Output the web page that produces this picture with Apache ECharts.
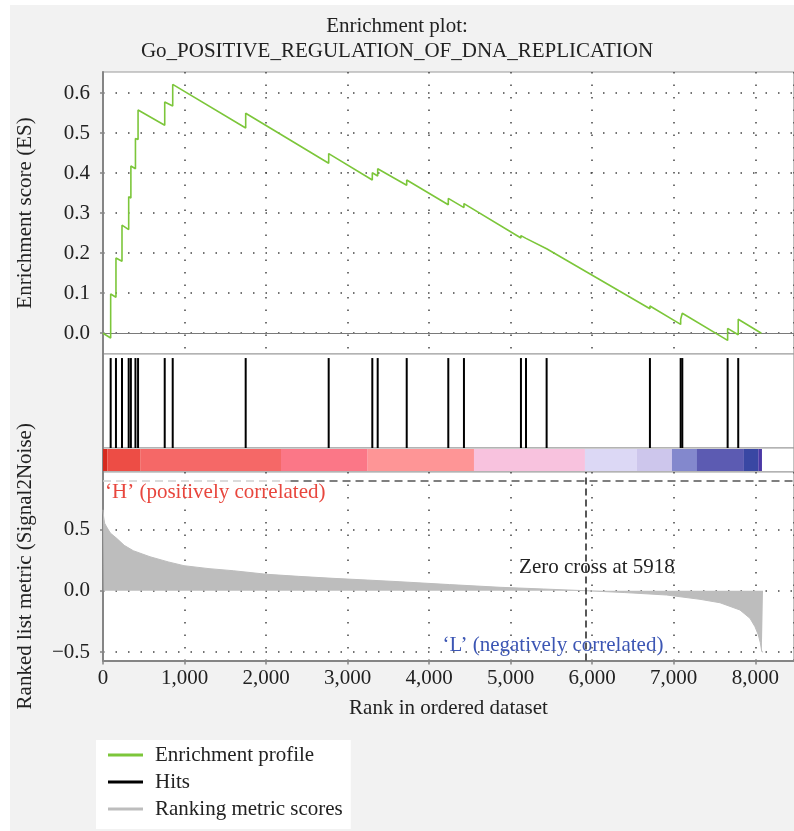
<!DOCTYPE html>
<html><head><meta charset="utf-8">
<script src="https://cdn.jsdelivr.net/npm/echarts@6/dist/echarts.min.js"></script>
<style>html,body{margin:0;padding:0;background:#fff}#c{width:794px;height:831px}</style>
</head><body><div id="c"></div>
<script>
// ---------- data ----------
const titleLines = ['Enrichment plot:', 'Go_POSITIVE_REGULATION_OF_DNA_REPLICATION'];
const esTicks = [0, 0.1, 0.2, 0.3, 0.4, 0.5, 0.6];
const metricTicks = [-0.5, 0, 0.5];

// running enrichment score vertices (rank, ES)
const esRank  = [0, 94, 94, 159, 159, 233, 233, 315, 315, 342, 342, 398, 398, 430, 430, 757, 757, 855, 855,
                 1750, 1750, 2768, 2768, 3303, 3303, 3369, 3369, 3725, 3725, 4235, 4235, 4427, 4427,
                 5126, 5126, 5188, 5188, 5441, 5441, 6708, 6708, 7085, 7085, 7105, 7105, 7661, 7661, 7791, 7791, 8075];
const esScore = [0, -0.012, 0.098, 0.090, 0.188, 0.180, 0.270, 0.259, 0.341, 0.338, 0.418, 0.411, 0.487, 0.484, 0.558,
                 0.520, 0.578, 0.568, 0.622, 0.513, 0.550, 0.425, 0.449, 0.383, 0.401, 0.393, 0.411, 0.370, 0.383,
                 0.321, 0.337, 0.314, 0.324, 0.238, 0.244, 0.237, 0.242, 0.211, 0.216, 0.061, 0.068, 0.022, 0.035,
                 0.033, 0.050, -0.018, 0.012, -0.004, 0.035, 0.0];

// gene set hit positions
const hitRanks = [94, 159, 233, 315, 342, 398, 430, 757, 855, 1750, 2768, 3303, 3369, 3725, 4235, 4427,
                  5126, 5188, 5441, 6708, 7085, 7105, 7661, 7791];

// ranked list metric (Signal2Noise)
const metricRank  = [0, 8, 20, 45, 90, 168, 260, 372, 576, 800, 993, 1300, 1598, 2007, 2400, 2820, 3242, 3642,
                     4250, 4869, 5400, 5918, 6400, 6913, 7322, 7567, 7812, 7935, 7996, 8037, 8062, 8080, 8095];
const metricValue = [0.66, 0.60, 0.55, 0.52, 0.47, 0.427, 0.37, 0.326, 0.277, 0.235, 0.204, 0.18, 0.163, 0.134,
                     0.117, 0.101, 0.087, 0.073, 0.05, 0.028, 0.014, 0.0, -0.015, -0.035, -0.07, -0.098, -0.157,
                     -0.225, -0.293, -0.36, -0.424, -0.497, -0.50];

// colour bar of ranked list
const barStart  = [0, 53, 462, 2183, 3246, 4550, 5911, 6549, 6978, 7285, 7861, 8037];
const barEnd    = [53, 462, 2183, 3246, 4550, 5911, 6549, 6978, 7285, 7861, 8037, 8082];
const barColors = ['#d62b1f', '#ed4d45', '#f56867', '#fb7787', '#fe9596', '#f8c2de', '#dcd8f5', '#cdc6ec',
                   '#8388cd', '#5c5bb2', '#3947a3', '#4b38a6'];

const zeroCross = 5918;
const xMax = 8475;

// ---------- chart ----------
const FF = "'Liberation Serif', 'Times New Roman', serif";
const TXT = '#222';
const dotted = { show: true, lineStyle: { color: '#444', width: 1.5, type: [1.5, 11] } };
const axisGray = '#858585';
const fmtY = v => (v < 0 ? '\u2212' + Math.abs(v).toFixed(1) : v.toFixed(1));

const chart = echarts.init(document.getElementById('c'), null, { renderer: 'canvas' });

const gridBase = { left: 103, width: 691, show: true, backgroundColor: '#fff', borderColor: '#999', borderWidth: 1.2, containLabel: false };

const option = {
  animation: false,
  backgroundColor: '#fff',
  graphic: [{ type: 'rect', left: 10, top: 5, shape: { width: 784, height: 826 }, style: { fill: '#f2f2f2' }, z: -100, silent: true }],
  title: {
    text: titleLines.join('\n'), left: 'center', top: 9,
    textStyle: { fontSize: 21, fontWeight: 'normal', lineHeight: 25, color: TXT, fontFamily: FF }
  },
  legend: {
    orient: 'vertical', left: 96, top: 740, padding: [3, 8, 8, 12], itemGap: 3,
    backgroundColor: '#fff', itemWidth: 35, itemHeight: 3,
    data: [{ name: 'Enrichment profile', icon: 'rect' }, { name: 'Hits', icon: 'rect' }, { name: 'Ranking metric scores', icon: 'rect' }],
    textStyle: { fontSize: 21, lineHeight: 24, color: TXT, fontFamily: FF, padding: [0, 0, 0, 7] }
  },
  grid: [
    Object.assign({}, gridBase, { top: 72, height: 282 }),
    Object.assign({}, gridBase, { top: 354, height: 94 }),
    Object.assign({}, gridBase, { top: 448, height: 24 }),
    Object.assign({}, gridBase, { top: 472, height: 188.5 })
  ],
  xAxis: [
    { gridIndex: 0, type: 'value', min: 0, max: xMax, interval: 1000, axisLine: { show: false }, axisTick: { show: false }, axisLabel: { show: false }, splitLine: dotted },
    { gridIndex: 1, type: 'value', min: 0, max: xMax, show: false, splitLine: { show: false } },
    { gridIndex: 2, type: 'value', min: 0, max: xMax, show: false, splitLine: { show: false } },
    { gridIndex: 3, type: 'value', min: 0, max: xMax, interval: 1000,
      axisLine: { onZero: false, lineStyle: { color: axisGray, width: 2 } },
      axisTick: { show: true, length: 4, lineStyle: { color: axisGray, width: 1.5 } },
      axisLabel: { showMaxLabel: false, margin: 7, fontSize: 21, color: TXT, fontFamily: FF, formatter: v => v.toLocaleString('en-US') },
      splitLine: dotted,
      name: 'Rank in ordered dataset', nameLocation: 'middle', nameGap: 37,
      nameTextStyle: { fontSize: 21, color: TXT, fontFamily: FF } }
  ],
  yAxis: [
    { gridIndex: 0, type: 'value', min: -0.052, max: 0.653,
      axisLine: { show: true, lineStyle: { color: axisGray, width: 2 } },
      axisTick: { show: true, length: 3, customValues: esTicks, lineStyle: { color: axisGray, width: 1.5 } },
      axisLabel: { customValues: esTicks, margin: 13, fontSize: 21, color: TXT, fontFamily: FF, formatter: fmtY },
      splitLine: dotted,
      name: 'Enrichment score (ES)', nameLocation: 'middle', nameGap: 67,
      nameTextStyle: { fontSize: 21, color: TXT, fontFamily: FF } },
    { gridIndex: 1, type: 'value', min: 0, max: 1.045, axisLine: { show: true, lineStyle: { color: axisGray, width: 2 } }, axisTick: { show: false }, axisLabel: { show: false }, splitLine: { show: false } },
    { gridIndex: 2, type: 'value', min: -0.045, max: 1.045, axisLine: { show: true, lineStyle: { color: axisGray, width: 2 } }, axisTick: { show: false }, axisLabel: { show: false }, splitLine: { show: false } },
    { gridIndex: 3, type: 'value', min: -0.569, max: 0.968,
      axisLine: { show: true, onZero: false, lineStyle: { color: axisGray, width: 2 } },
      axisTick: { show: true, length: 3, customValues: metricTicks, lineStyle: { color: axisGray, width: 1.5 } },
      axisLabel: { customValues: metricTicks, margin: 13, fontSize: 21, color: TXT, fontFamily: FF, formatter: fmtY },
      splitLine: dotted,
      name: 'Ranked list metric (Signal2Noise)', nameLocation: 'middle', nameGap: 67,
      nameTextStyle: { fontSize: 21, color: TXT, fontFamily: FF } }
  ],
  series: [
    {
      name: 'Enrichment profile', type: 'line', xAxisIndex: 0, yAxisIndex: 0,
      data: esRank.map((r, i) => [r, esScore[i]]),
      showSymbol: false, symbol: 'none', color: '#7cc63a',
      lineStyle: { color: '#7cc63a', width: 1.6 }, z: 5,
      markLine: { silent: true, symbol: ['none', 'none'], label: { show: false },
        lineStyle: { type: 'solid', color: '#7a7a7a', width: 1.2 }, data: [{ yAxis: 0 }] }
    },
    {
      name: 'Hits', type: 'custom', xAxisIndex: 1, yAxisIndex: 1,
      data: hitRanks.map(r => [r, 1]), encode: { x: 0, y: 1 },
      itemStyle: { color: '#000' }, color: '#000',
      renderItem: (params, api) => {
        const b = api.coord([api.value(0), 0]);
        const t = api.coord([api.value(0), 1]);
        return { type: 'line', shape: { x1: b[0], y1: b[1], x2: t[0], y2: t[1] }, style: { stroke: '#000', lineWidth: 2 } };
      }
    },
    {
      name: 'colourbar', type: 'custom', xAxisIndex: 2, yAxisIndex: 2,
      data: barStart.map((s, i) => [s, barEnd[i], i]), encode: { x: [0, 1] },
      renderItem: (params, api) => {
        const a = api.coord([api.value(0), 1]);
        const b = api.coord([api.value(1), 0]);
        return { type: 'rect', shape: { x: a[0], y: a[1], width: b[0] - a[0], height: b[1] - a[1] }, style: { fill: barColors[api.value(2)] } };
      }
    },
    {
      name: 'Ranking metric scores', type: 'line', xAxisIndex: 3, yAxisIndex: 3,
      data: metricRank.map((r, i) => [r, metricValue[i]]),
      showSymbol: false, symbol: 'none', color: '#bdbdbd',
      lineStyle: { color: '#bdbdbd', width: 1 },
      areaStyle: { color: '#bdbdbd', opacity: 1, origin: 0 },
      markLine: {
        silent: true, symbol: ['none', 'none'], label: { show: false },
        data: [
          [{ coord: [0, 0.895], lineStyle: { type: [8, 5], color: '#cfcfcf', width: 1.5 } }, { coord: [2300, 0.895] }],
          [{ coord: [2300, 0.895], lineStyle: { type: [8, 5], color: '#555', width: 1.5 } }, { coord: [xMax, 0.895] }],
          { xAxis: zeroCross, lineStyle: { type: [7, 4], color: '#222', width: 1.5 } }
        ]
      },
      markPoint: {
        silent: true, symbol: 'circle', symbolSize: 0,
        data: [
          { coord: [6058, 0.193], label: { show: true, position: 'inside', formatter: 'Zero cross at ' + zeroCross, color: TXT, fontSize: 21, fontFamily: FF } },
          { coord: [25, 0.797], label: { show: true, position: 'inside', align: 'left', formatter: '\u2018H\u2019 (positively correlated)', color: '#e8463d', fontSize: 21, fontFamily: FF } },
          { coord: [5519, -0.444], label: { show: true, position: 'inside', formatter: '\u2018L\u2019 (negatively correlated)', color: '#3c56b4', fontSize: 21, fontFamily: FF } }
        ]
      }
    }
  ]
};
chart.setOption(option);
</script>
</body></html>
